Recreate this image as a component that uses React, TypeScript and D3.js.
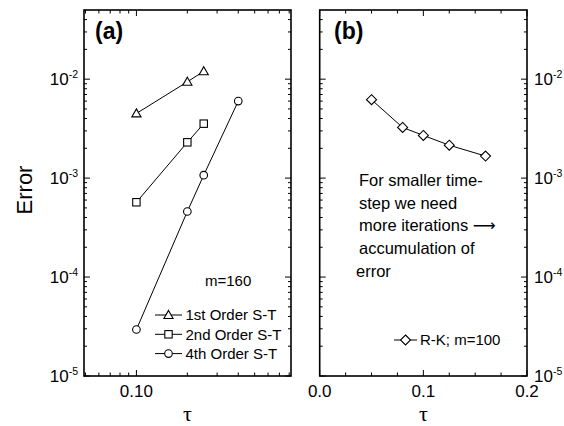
import React from "react";
import * as d3 from "d3";

// ---- Data ----
const tauA = [0.1, 0.2, 0.25];
const tauA4 = [0.1, 0.2, 0.25, 0.4];
const err1st = [4.5e-3, 9.4e-3, 1.2e-2];
const err2nd = [5.7e-4, 2.3e-3, 3.55e-3];
const err4th = [2.95e-5, 4.6e-4, 1.07e-3, 6.0e-3];
const tauB = [0.05, 0.08, 0.1, 0.125, 0.16];
const errRK = [6.2e-3, 3.25e-3, 2.7e-3, 2.15e-3, 1.67e-3];
const yMajor = [1e-5, 1e-4, 1e-3, 1e-2];
const yExpLabels = ["-5", "-4", "-3", "-2"];
const legendA = ["1st Order S-T", "2nd Order S-T", "4th Order S-T"];
const legendB = "R-K; m=100";
const noteB = ["For smaller time-", "step we need", "more iterations ", "accumulation of", "error"];

const W = 564, H = 426;
const top = 10, bottom = 376;
const aL = 84, aR = 291, bL = 319.7, bR = 527;
const font = "'Liberation Sans', Arial, Helvetica, sans-serif";

type Shape = "tri" | "sq" | "circ" | "dia";

function Marker({ x, y, shape }: { x: number; y: number; shape: Shape }) {
  const st = { fill: "#fff", stroke: "#000", strokeWidth: 1.1 };
  if (shape === "tri") {
    const s = 4.6;
    return <path d={`M${x},${y - s}L${x + s},${y + s * 0.75}L${x - s},${y + s * 0.75}Z`} {...st} />;
  }
  if (shape === "sq") return <rect x={x - 3.7} y={y - 3.7} width={7.4} height={7.4} {...st} />;
  if (shape === "circ") return <circle cx={x} cy={y} r={3.8} {...st} />;
  const s = 5;
  return <path d={`M${x},${y - s}L${x + s},${y}L${x},${y + s}L${x - s},${y}Z`} {...st} />;
}

export default function App() {
  const y = d3.scaleLog().domain([1e-5, 0.05]).range([bottom, top]);
  const xa = d3.scaleLog().domain([0.049, 0.82]).range([aL, aR]);
  const xb = d3.scaleLinear().domain([0, 0.2]).range([bL, bR]);

  const yMinor: number[] = [];
  for (let e = -5; e <= -2; e++)
    for (let k = 2; k <= 9; k++) {
      const v = k * Math.pow(10, e);
      if (v < 0.05) yMinor.push(v);
    }
  const xaMinor = [0.05, 0.06, 0.07, 0.08, 0.09, 0.2, 0.3, 0.4, 0.5, 0.6, 0.7, 0.8];
  const xbMinor = d3.range(1, 8).map((i) => i * 0.025).filter((v) => Math.abs(v - 0.1) > 1e-9);

  const line = d3.line<[number, number]>().x((d) => d[0]).y((d) => d[1]);

  const series: { xs: number[]; ys: number[]; shape: Shape }[] = [
    { xs: tauA, ys: err1st, shape: "tri" },
    { xs: tauA, ys: err2nd, shape: "sq" },
    { xs: tauA4, ys: err4th, shape: "circ" },
  ];
  const shapes: Shape[] = ["tri", "sq", "circ"];

  const yTicks = (x0: number, x1: number) => (
    <g stroke="#000" strokeWidth={1}>
      {yMajor.map((v, i) => (
        <g key={"M" + i}>
          <line x1={x0} x2={x0 + 6} y1={y(v)} y2={y(v)} />
          <line x1={x1} x2={x1 - 6} y1={y(v)} y2={y(v)} />
        </g>
      ))}
      {yMinor.map((v, i) => (
        <g key={"m" + i}>
          <line x1={x0} x2={x0 + 3} y1={y(v)} y2={y(v)} />
          <line x1={x1} x2={x1 - 3} y1={y(v)} y2={y(v)} />
        </g>
      ))}
    </g>
  );

  const xTicks = (pos: number[], major: number[], sc: (v: number) => number) => (
    <g stroke="#000" strokeWidth={1}>
      {pos.map((v, i) => (
        <g key={"x" + i}>
          <line x1={sc(v)} x2={sc(v)} y1={bottom} y2={bottom - 3.5} />
          <line x1={sc(v)} x2={sc(v)} y1={top} y2={top + 3.5} />
        </g>
      ))}
      {major.map((v, i) => (
        <g key={"X" + i}>
          <line x1={sc(v)} x2={sc(v)} y1={bottom} y2={bottom - 6} />
          <line x1={sc(v)} x2={sc(v)} y1={top} y2={top + 6} />
        </g>
      ))}
    </g>
  );

  const tauFont = "'Liberation Serif', 'Times New Roman', serif";

  return (
    <svg width={W} height={H} style={{ position: "absolute", left: 0, top: 0, background: "#fff" }} fontFamily={font}>
      <rect width={W} height={H} fill="#fff" />
      {/* Panel (a) */}
      {yTicks(aL, aR)}
      {xTicks(xaMinor, [0.1], xa)}
      <rect x={aL} y={top} width={aR - aL} height={bottom - top} fill="none" stroke="#000" strokeWidth={1.6} />
      {series.map((s, i) => (
        <g key={i}>
          <path d={line(s.xs.map((t, j) => [xa(t), y(s.ys[j])] as [number, number])) || ""} fill="none" stroke="#000" strokeWidth={1} />
          {s.xs.map((t, j) => (
            <Marker key={j} x={xa(t)} y={y(s.ys[j])} shape={s.shape} />
          ))}
        </g>
      ))}
      <text x={95} y={39} fontSize={23} fontWeight="bold">(a)</text>
      <text x={205} y={286} fontSize={15}>m=160</text>
      {legendA.map((t, i) => {
        const ly = 315 + i * 19.3;
        return (
          <g key={i}>
            <line x1={155} x2={182} y1={ly} y2={ly} stroke="#000" strokeWidth={1} />
            <Marker x={168.5} y={ly} shape={shapes[i]} />
            <text x={185.5} y={ly + 5.3} fontSize={15}>{t}</text>
          </g>
        );
      })}
      {yMajor.map((v, i) => (
        <text key={i} x={78} y={y(v) + 6} fontSize={17} textAnchor="end">
          10<tspan fontSize={10.5} dy={-7}>{yExpLabels[i]}</tspan>
        </text>
      ))}
      <text x={xa(0.1)} y={396.5} fontSize={17} textAnchor="middle">0.10</text>
      <text x={(aL + aR) / 2} y={421.2} fontSize={22} textAnchor="middle" fontFamily={tauFont}>τ</text>
      <text transform={`translate(32,190) rotate(-90)`} fontSize={22} textAnchor="middle">Error</text>

      {/* Panel (b) */}
      {yTicks(bL, bR)}
      {xTicks(xbMinor, [0, 0.1, 0.2], xb)}
      <rect x={bL} y={top} width={bR - bL} height={bottom - top} fill="none" stroke="#000" strokeWidth={1.6} />
      <path d={line(tauB.map((t, j) => [xb(t), y(errRK[j])] as [number, number])) || ""} fill="none" stroke="#000" strokeWidth={1} />
      {tauB.map((t, j) => (
        <Marker key={j} x={xb(t)} y={y(errRK[j])} shape="dia" />
      ))}
      <text x={334} y={39} fontSize={23} fontWeight="bold">(b)</text>
      {noteB.map((t, i) => (
        <text key={i} x={i === 4 ? 356 : 359} y={186 + i * 22.7} fontSize={16.5}>
          {t}
          {i === 2 ? <tspan fontFamily="'DejaVu Sans', sans-serif" fontSize={16}>{"\u27F6"}</tspan> : null}
        </text>
      ))}
      <line x1={394} x2={417} y1={340} y2={340} stroke="#000" strokeWidth={1} />
      <Marker x={405.5} y={340} shape="dia" />
      <text x={420} y={345.3} fontSize={15}>{legendB}</text>
      {yMajor.map((v, i) => (
        <text key={i} x={534} y={y(v) + 6} fontSize={17}>
          10<tspan fontSize={10.5} dy={-7}>{yExpLabels[i]}</tspan>
        </text>
      ))}
      {[0, 0.1, 0.2].map((v, i) => (
        <text key={i} x={xb(v)} y={396.5} fontSize={17} textAnchor="middle">{d3.format(".1f")(v)}</text>
      ))}
      <text x={(bL + bR) / 2} y={421.2} fontSize={22} textAnchor="middle" fontFamily={tauFont}>τ</text>
    </svg>
  );
}
